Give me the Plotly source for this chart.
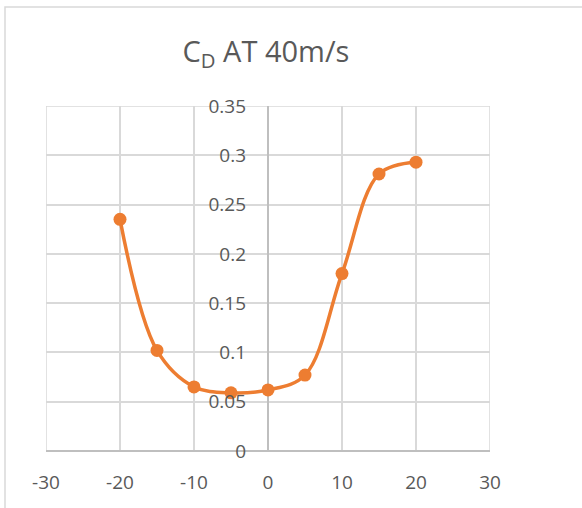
import plotly.graph_objects as go

# Drag coefficient vs. angle, sampled every 5 degrees
angle = [-20, -15, -10, -5, 0, 5, 10, 15, 20]
cd = [0.235, 0.102, 0.065, 0.059, 0.062, 0.077, 0.180, 0.281, 0.293]

y_ticks = [0, 0.05, 0.1, 0.15, 0.2, 0.25, 0.3, 0.35]
y_tick_text = ["0", "0.05", "0.1", "0.15", "0.2", "0.25", "0.3", "0.35"]
x_ticks = [-30, -20, -10, 0, 10, 20, 30]
x_tick_text = ["-30", "-20", "-10", "0", "10", "20", "30"]

ORANGE = "#ED7D31"
GRID = "#d9d9d9"
AXIS = "#bfbfbf"
TEXT = "#595959"
FONT = "Open Sans"

fig = go.Figure(
    go.Scatter(
        x=angle,
        y=cd,
        mode="lines+markers",
        line=dict(color=ORANGE, width=3.5, shape="spline", smoothing=1),
        marker=dict(color=ORANGE, size=13),
        showlegend=False,
    )
)

fig.update_layout(
    width=582,
    height=508,
    margin=dict(l=46, r=92, t=106, b=57),
    paper_bgcolor="white",
    plot_bgcolor="white",
    font=dict(family=FONT, color=TEXT, size=19),
    title=dict(
        text="C<sub>D</sub> AT 40m/s",
        x=266 / 582,
        xanchor="center",
        y=1 - 52 / 508,
        yanchor="middle",
        font=dict(family=FONT, size=29, color=TEXT),
    ),
    xaxis=dict(
        range=[-30, 30],
        tickvals=x_ticks,
        ticktext=x_tick_text,
        showgrid=True,
        gridcolor=GRID,
        gridwidth=1.5,
        zeroline=True,
        zerolinecolor=AXIS,
        zerolinewidth=1.5,
        showline=False,
        ticks="",
        ticklabelstandoff=18,
        tickfont=dict(size=19, color=TEXT),
        fixedrange=True,
    ),
    yaxis=dict(
        range=[0, 0.35],
        tickvals=y_ticks,
        ticktext=y_tick_text,
        anchor="free",
        position=0.5,
        showgrid=True,
        gridcolor=GRID,
        gridwidth=1.5,
        zeroline=True,
        zerolinecolor=AXIS,
        zerolinewidth=1.5,
        showline=False,
        ticks="",
        ticklabelstandoff=22,
        tickfont=dict(size=19, color=TEXT),
        fixedrange=True,
    ),
    shapes=[
        # plot-area border: outermost gridlines at x = ±30 and y = 0.35
        dict(
            type="rect",
            xref="x",
            yref="y",
            x0=-30,
            x1=30,
            y0=0,
            y1=0.35,
            line=dict(color=GRID, width=1.5),
            layer="below",
        ),
        # chart frame (runs past the right and bottom of the page)
        dict(
            type="rect",
            xref="paper",
            yref="paper",
            x0=(5 - 46) / 444,
            x1=1.5,
            y0=-0.5,
            y1=(451 - 7) / 345,
            line=dict(color=GRID, width=1.5),
            layer="below",
        ),
    ],
)

fig.write_html("out.html")
